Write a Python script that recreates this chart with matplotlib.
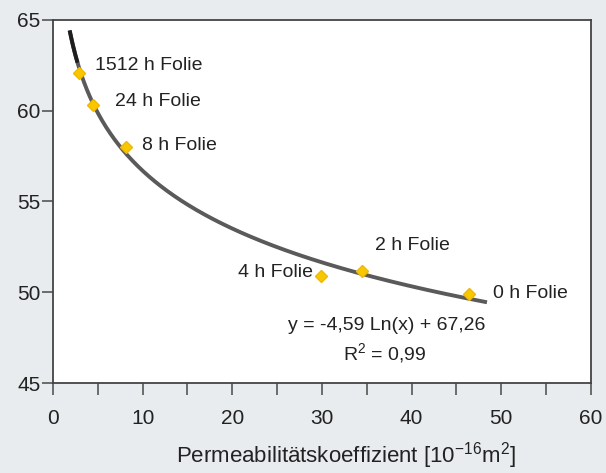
import matplotlib.pyplot as plt
import numpy as np

plt.rcParams['font.family'] = ['Liberation Sans', 'DejaVu Sans']
plt.rcParams['mathtext.fontset'] = 'custom'
plt.rcParams['mathtext.rm'] = 'Liberation Sans'
plt.rcParams['mathtext.it'] = 'Liberation Sans:italic'

labels = ['1512 h Folie', '24 h Folie', '8 h Folie', '4 h Folie', '2 h Folie', '0 h Folie']
perm = [2.9, 4.5, 8.1, 29.9, 34.5, 46.4]        # permeability coefficient [1e-16 m2]
vals = [62.1, 60.3, 58.0, 50.9, 51.2, 49.9]

# label offsets in data units
lab_dx = [1.8, 2.4, 1.8, -0.9, 1.4, 2.65]
lab_dy = [0.37, 0.2, 0.1, 0.2, 1.4, 0.06]
lab_ha = ['left', 'left', 'left', 'right', 'left', 'left']

# log fit from the chart
a, b = -4.59, 67.26
xfit = np.linspace(1.9, 48.2, 300)
yfit = a * np.log(xfit) + b

bg = '#e8ecee'
fig = plt.figure(figsize=(6.06, 4.73), dpi=100, facecolor=bg)
ax = fig.add_axes([0.0875, 0.19, 0.8875, 0.768])
ax.set_facecolor('white')

ax.plot(xfit, yfit, color='#5a5a5a', lw=2.8, zorder=2)
top = xfit < 2.8
ax.plot(xfit[top], yfit[top], color='#1e1e1e', lw=2.8, zorder=2)
ax.plot(perm, vals, 'D', color='#f7c800', ms=6.5, mec='#f2b800', zorder=3)

for lab, x, y, dx, dy, ha in zip(labels, perm, vals, lab_dx, lab_dy, lab_ha):
    ax.text(x + dx, y + dy, lab, ha=ha, va='center', fontsize=14, color='#222222')

ax.text(37.2, 48.2, 'y = -4,59 Ln(x) + 67,26', ha='center', va='center',
        fontsize=14, color='#222222')
ax.text(37.0, 46.65, 'R$^2$ = 0,99', ha='center', va='center',
        fontsize=14, color='#222222')

ax.set_xlim(0, 60)
ax.set_ylim(45, 65)
ax.set_xticks(np.arange(0, 61, 10))
ax.set_xticks(np.arange(5, 60, 10), minor=True)
ax.set_yticks(np.arange(45, 66, 5))
ax.tick_params(axis='both', direction='out', width=1.2, color='#555555',
               labelsize=15, labelcolor='#222222')
ax.tick_params(axis='x', which='both', length=8.5, width=1.2, color='#555555', pad=10)
ax.tick_params(axis='y', length=8, pad=1)
for s in ax.spines.values():
    s.set_color('#444444')
    s.set_linewidth(1.3)

ax.set_xlabel('Permeabilitätskoeffizient [10$^{-16}$m$^2$]', fontsize=16,
              color='#222222', va='center')
ax.xaxis.set_label_coords(0.545, -0.2)

plt.savefig('out.png', dpi=100, facecolor=bg)
